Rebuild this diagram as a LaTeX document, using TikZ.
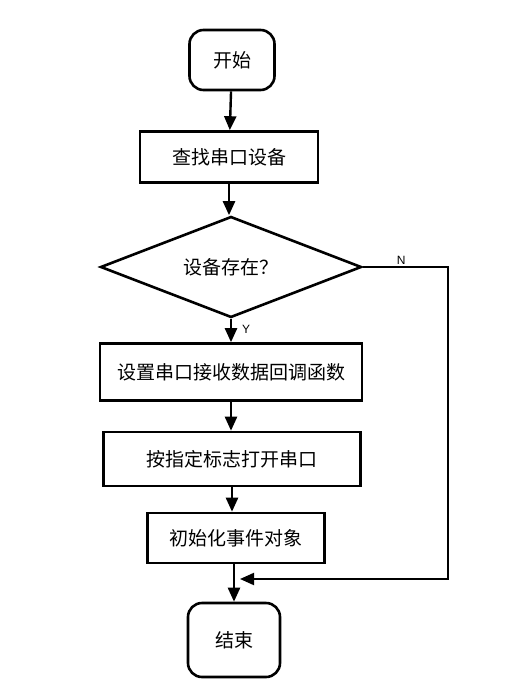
\documentclass[tikz,border=0pt]{standalone}
\usepackage{fontspec}
\setmainfont{Liberation Sans}
\newfontfamily\cjk{Noto Sans CJK SC}
\usetikzlibrary{arrows.meta,shapes.geometric}

\begin{document}
\begin{tikzpicture}[x=1pt,y=-1pt,
  base/.style={draw,line width=2.6pt,inner sep=0pt,font=\cjk\fontsize{19}{19}\selectfont},
  proc/.style n args={2}{base,rectangle,minimum width=#1,minimum height=#2},
  term/.style n args={2}{base,rectangle,rounded corners=14pt,minimum width=#1,minimum height=#2},
  dec/.style={base,diamond,aspect=2.6,minimum width=261pt,minimum height=101pt},
  flow/.style={line width=2.4pt,-{Triangle[length=14pt,width=12pt]}},
  back/.style={line width=2pt,-{Triangle[length=14pt,width=12pt]}},
  lbl/.style={font=\fontsize{12}{12}\selectfont,inner sep=1pt}]
\useasboundingbox (0,0) rectangle (504,700);
% nodes
\node[term={85pt}{60pt}] (start) at (232,60) {开始};
\node[proc={178pt}{51pt}] (find) at (229,157) {查找串口设备};
\node[dec] (exist) at (231,267) {设备存在？};
\node[proc={262pt}{57pt}] (setcb) at (231,372) {设置串口接收数据回调函数};
\node[proc={257pt}{54pt}] (open) at (232,459) {按指定标志打开串口};
\node[proc={177pt}{50pt}] (init) at (236,538) {初始化事件对象};
\node[term={92pt}{74pt}] (stop) at (234,640) {结束};
% connectors
\draw[flow] (start) -- (find);
\draw[flow] (find.south) -- (find.south |- exist.north);
\draw[flow] (exist.south) -- (exist.south |- setcb.north) node[lbl,pos=0.45,right=9pt] {Y};
\draw[flow] (setcb) -- (setcb.south |- open.north);
\draw[flow] (open.south) -- (open.south |- init.north);
\coordinate (merge) at (240,579);
\coordinate (nturn) at (448,267);
\coordinate (nback) at (448,579);
\draw[flow] (init.south -| stop.north) -- (stop.north);
\draw[back] (exist.east) -- (nturn) node[lbl,pos=0.45,above] {N} -- (nback) -- (merge);
\end{tikzpicture}
\end{document}
